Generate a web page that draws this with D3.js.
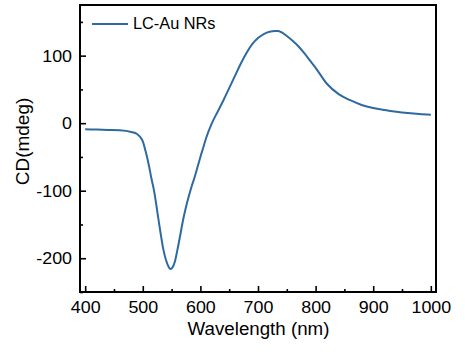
<!DOCTYPE html>
<html><head><meta charset="utf-8">
<script src="https://cdn.jsdelivr.net/npm/d3@7"></script>
<style>body{margin:0;background:#fff}svg text{font-family:Arial,"Liberation Sans",sans-serif;fill:#000}</style>
</head><body><svg id="c" width="465" height="360"></svg>
<script>
const wavelength = [400,420,440,460,480,490,495,500,505,510,515,520,525,530,535,540,545,548,552,556,560,565,570,575,580,585,590,595,600,605,610,620,630,640,650,660,670,680,690,700,710,720,730,735,740,750,760,770,780,790,800,820,840,860,880,900,920,940,960,980,1000];
const cdValues   = [-9,-9.5,-10,-10.5,-13,-16,-20,-27,-42,-60,-82,-102,-130,-158,-184,-202,-213,-216,-213,-204,-188,-166,-143,-124,-108,-93,-80,-65,-50,-36,-22,0,17,34,52,70,88,104,117,126,132,135.5,136.5,136.5,135,129,122,114,104,93,82,58,43,34,27,22.5,19.5,17,15,13.5,12.5];
const xTicks = [400,500,600,700,800,900,1000];
const yTicks = [-200,-100,0,100];
const seriesName = "LC-Au NRs";

const svg = d3.select("#c");
const L=80,T=5,R=436,B=292;
const x = d3.scaleLinear().domain([391,1009]).range([L,R]);
const y = d3.scaleLinear().domain([-250,175]).range([B,T]);
const color = "#2e6aa0";
const FONT = "Arial, 'Liberation Sans', sans-serif";

const data = wavelength.map((w,i)=>({w, v: cdValues[i]}));
svg.append("path").datum(data)
  .attr("fill","none").attr("stroke",color).attr("stroke-width",2)
  .attr("d", d3.line().x(d=>x(d.w)).y(d=>y(d.v)).curve(d3.curveMonotoneX));

const xMinor = d3.range(450,1001,100);
const yMinor = d3.range(-250,175,50).filter(v=>!yTicks.includes(v));
const gx = svg.append("g").attr("transform",`translate(0,${B})`);
gx.call(d3.axisBottom(x).tickValues(xMinor).tickSize(-3).tickFormat(""));
gx.append("g").call(d3.axisBottom(x).tickValues(xTicks).tickSize(-6).tickPadding(9).tickFormat(d3.format("d")));
const gy = svg.append("g").attr("transform",`translate(${L},0)`);
gy.call(d3.axisLeft(y).tickValues(yMinor).tickSize(-3).tickFormat(""));
gy.append("g").call(d3.axisLeft(y).tickValues(yTicks).tickSize(-6).tickPadding(7.6).tickFormat(d=>d3.format("d")(d).replace("−","-")));
svg.selectAll(".domain").remove();
svg.selectAll(".tick line").attr("stroke","#000").attr("stroke-width",1.6);
svg.selectAll(".tick text").attr("font-size",17).attr("fill","#000").style("font-family",FONT)
  .attr("transform","scale(1.05,1)");

svg.append("rect").attr("x",L).attr("y",T).attr("width",R-L).attr("height",B-T)
  .attr("fill","none").attr("stroke","#000").attr("stroke-width",2);

svg.append("text").attr("transform",`translate(${(L+R)/2+0.5},335) scale(1.07,1)`).attr("text-anchor","middle").attr("font-size",17.5).text("Wavelength (nm)");
svg.append("text").attr("transform",`translate(28.5,141.5) rotate(-90)`).attr("text-anchor","middle").attr("font-size",19).text("CD(mdeg)");

svg.append("line").attr("x1",92).attr("x2",128).attr("y1",24).attr("y2",24).attr("stroke",color).attr("stroke-width",2);
svg.append("text").attr("transform","translate(133,29.3) scale(1.02,1)").attr("font-size",16).text(seriesName);
</script></body></html>
